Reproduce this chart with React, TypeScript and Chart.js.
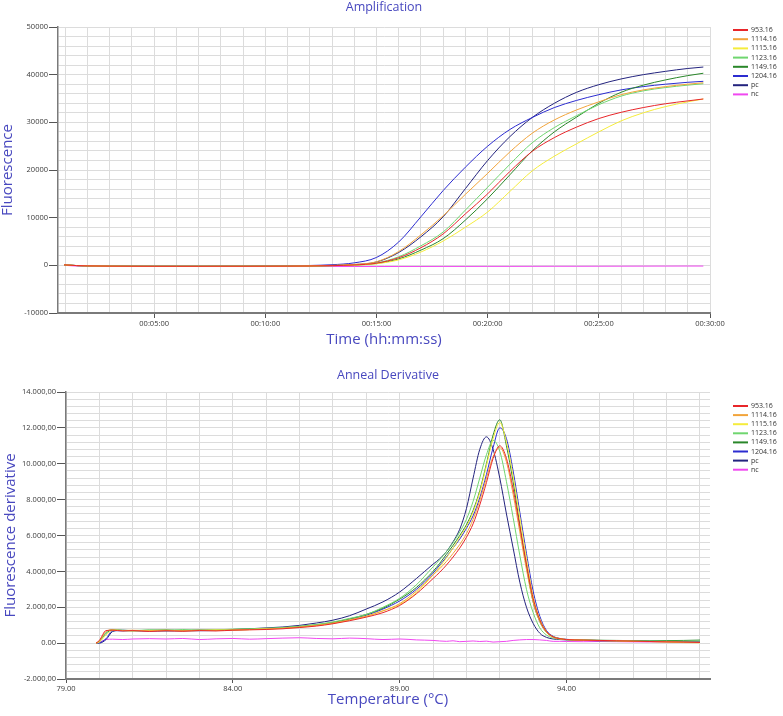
import React, { useEffect, useRef } from 'react';
import { Chart, registerables } from 'chart.js';

Chart.register(...registerables);

const FONT = '"Open Sans", "DejaVu Sans", sans-serif';
const TITLE_COLOR = '#4848bf';
const TICK_COLOR = '#3a3a3a';
const GRID_COLOR = '#dcdcdc';
const AXIS_COLOR = '#7a7a7a';

const seriesLabels = ['953.16', '1114.16', '1115.16', '1123.16', '1149.16', '1204.16', 'pc', 'nc'];
const seriesColors = ['#e8262a', '#f2a43a', '#f5ec3c', '#6fd66f', '#2a872a', '#2c2cd0', '#23237e', '#f048f0'];

// ---------- Amplification (time in seconds) ----------
const ampTimes = [57, 90, 120, 180, 240, 300, 360, 420, 480, 540, 600, 660, 720, 780, 840, 900, 960, 1020, 1080, 1140, 1200, 1260, 1320, 1380, 1440, 1500, 1560, 1620, 1680, 1740, 1782];
const ampRed = [100, -50, -120, -170, -190, -200, -200, -200, -190, -190, -180, -170, -140, -60, 80, 450, 1600, 3700, 6600, 10800, 15000, 19700, 23900, 26800, 29000, 30800, 32100, 33100, 33900, 34500, 34900];
const ampOrange = [100, -40, -110, -170, -190, -200, -200, -200, -190, -190, -180, -160, -110, -10, 200, 750, 2900, 6400, 10400, 14900, 19300, 23800, 27700, 30500, 32600, 34300, 35800, 36800, 37500, 38000, 38300];
const ampYellow = [100, -50, -120, -170, -190, -200, -200, -200, -200, -190, -190, -180, -150, -80, 50, 330, 1150, 2800, 5100, 8000, 11200, 15500, 19800, 22900, 25500, 28000, 30300, 32000, 33300, 34300, 34900];
const ampLightGreen = [100, -50, -110, -170, -190, -200, -200, -200, -190, -190, -180, -170, -130, -40, 110, 500, 1800, 4100, 7000, 11600, 16400, 21200, 25700, 28900, 31400, 33700, 35500, 36600, 37300, 37800, 38100];
const ampDarkGreen = [100, -50, -120, -170, -190, -200, -200, -200, -200, -190, -190, -180, -150, -70, 70, 380, 1350, 3200, 5600, 9500, 14000, 19000, 24000, 28000, 31100, 34000, 36300, 37800, 38900, 39800, 40300];
const ampBlue = [100, -40, -100, -160, -180, -190, -190, -190, -180, -170, -150, -110, -30, 130, 520, 1650, 4900, 10200, 15700, 20600, 25000, 28500, 31000, 33100, 34600, 35800, 36800, 37500, 38000, 38400, 38600];
const ampPc = [100, -50, -110, -170, -190, -200, -200, -200, -190, -190, -180, -170, -120, -30, 150, 700, 2700, 6000, 10200, 16100, 22000, 27000, 31000, 34000, 36300, 37900, 39100, 40000, 40700, 41300, 41600];
const ampNc = [0, -150, -200, -220, -230, -240, -240, -250, -250, -250, -250, -250, -250, -250, -250, -250, -240, -240, -230, -230, -220, -220, -210, -200, -200, -190, -180, -170, -160, -150, -150];
const ampSeries = [ampRed, ampOrange, ampYellow, ampLightGreen, ampDarkGreen, ampBlue, ampPc, ampNc];

const ampXMin = 40.5;
const ampXMax = 1800;
const ampGridSeconds = Array.from({ length: 30 }, (_, i) => (i + 1) * 60);
const ampLabelSeconds = [300, 600, 900, 1200, 1500, 1800];
const ampYGrid = Array.from({ length: 31 }, (_, i) => -10000 + i * 2000);
const ampYLabels = [-10000, 0, 10000, 20000, 30000, 40000, 50000];

// ---------- Anneal derivative (temperature °C) ----------
const meltTemps = [79.9, 80.0, 80.2, 80.4, 80.7, 81, 81.5, 82, 82.5, 83, 83.5, 84, 84.5, 85, 85.5, 86, 86.5, 87, 87.5, 88, 88.5, 89, 89.5, 90, 90.2, 90.4, 90.6, 90.8, 91, 91.2, 91.4, 91.6, 91.8, 92, 92.2, 92.4, 92.6, 92.8, 93, 93.2, 93.4, 93.6, 93.8, 94, 94.5, 95, 95.5, 96, 96.5, 97, 97.5, 98];
const meltRed = [0, 150, 700, 720, 680, 700, 650, 690, 660, 700, 680, 720, 740, 760, 800, 870, 950, 1080, 1250,
  1450, 1700, 2100, 2750, 3600, 3950, 4350, 4800, 5300, 5900, 6650, 7700, 8950, 10300, 11000, 10300, 8600, 6500, 4400, 2500, 1300, 650, 350, 250, 200,
  170, 150, 130, 110, 90, 70, 60, 40];
const meltOrange = [0, 120, 650, 740, 700, 720, 680, 700, 690, 720, 700, 740, 760, 790, 830, 900, 990, 1120, 1300,
  1500, 1800, 2200, 2900, 3800, 4150, 4550, 5000, 5500, 6100, 6900, 7950, 9200, 10400, 10900, 10100, 8300, 6200, 4100, 2300, 1200, 600, 330, 240, 200,
  160, 140, 130, 100, 90, 80, 50, 40];
const meltYellow = [0, 60, 450, 720, 700, 680, 700, 720, 680, 700, 740, 720, 750, 790, 820, 880, 980, 1100, 1280,
  1500, 1800, 2150, 2800, 3800, 4250, 4750, 5300, 5900, 6500, 7300, 8400, 9900, 11400, 12300, 11200, 9300, 7000, 4700, 2600, 1350, 650, 350, 250, 200,
  170, 140, 120, 100, 80, 60, 30, 20];
const meltLightGreen = [0, 80, 600, 760, 720, 700, 740, 700, 760, 720, 740, 780, 800, 830, 870, 940, 1040, 1180, 1380,
  1600, 2000, 2500, 3250, 4250, 4650, 5100, 5600, 6200, 6900, 7900, 9200, 10500, 11300, 10700, 9000, 7000, 4900, 3000, 1700, 850, 450, 280, 220, 190,
  170, 150, 140, 120, 110, 100, 110, 120];
const meltDarkGreen = [0, 100, 550, 740, 700, 690, 720, 740, 700, 730, 720, 760, 780, 800, 850, 920, 1020, 1150, 1350,
  1600, 1950, 2450, 3100, 4000, 4450, 4950, 5450, 6000, 6600, 7400, 8500, 10000, 11600, 12450, 11000, 9000, 6600, 4300, 2300, 1200, 600, 350, 250, 200,
  180, 160, 150, 140, 130, 140, 150, 170];
const meltBlue = [0, 20, 250, 700, 680, 700, 660, 700, 680, 690, 700, 730, 760, 790, 840, 910, 1000, 1130, 1320,
  1550, 1900, 2350, 3000, 3900, 4350, 4800, 5300, 5800, 6400, 7100, 8100, 9400, 10900, 12000, 11400, 9600, 7300, 5000, 2900, 1500, 700, 380, 260, 210,
  170, 140, 120, 110, 100, 90, 80, 70];
const meltPc = [0, 0, 200, 650, 720, 690, 700, 680, 700, 710, 720, 760, 800, 850, 900, 990, 1120, 1280, 1530,
  1900, 2300, 2850, 3600, 4400, 4700, 5100, 5650, 6350, 7500, 9200, 10800, 11500, 10800, 9200, 7200, 5300, 3400, 2000, 1100, 550, 320, 230, 200, 180,
  150, 130, 120, 100, 90, 80, 70, 60];
const meltNc = [0, 50, 200, 220, 200, 230, 250, 230, 260, 200, 240, 260, 220, 250, 280, 300, 260, 240, 280,
  250, 200, 230, 180, 150, 120, 100, 130, 80, 100, 120, 90, 110, 60, 80, 100, 150, 180, 200, 200, 180, 150, 100, 100, 90,
  80, 90, 80, 70, 60, 60, 50, 50];
const meltSeries = [meltRed, meltOrange, meltYellow, meltLightGreen, meltDarkGreen, meltBlue, meltPc, meltNc];

const meltXMin = 79;
const meltXMax = 98.3;
const meltXGrid = Array.from({ length: 20 }, (_, i) => 79 + i);
const meltXLabels = [79, 84, 89, 94];
const meltYGrid = Array.from({ length: 41 }, (_, i) => -2000 + i * 400);
const meltYLabels = [-2000, 0, 2000, 4000, 6000, 8000, 10000, 12000, 14000];

const pad2 = (n: number) => String(n).padStart(2, '0');
const hms = (sec: number) => {
  const h = Math.floor(sec / 3600);
  const m = Math.floor((sec % 3600) / 60);
  const s = Math.round(sec % 60);
  return `${pad2(h)}:${pad2(m)}:${pad2(s)}`;
};
const euro = (v: number) => {
  if (v === 0) return '0.00';
  const sign = v < 0 ? '-' : '';
  const s = Math.floor(Math.abs(v)).toString().replace(/\B(?=(\d{3})+(?!\d))/g, '.');
  return sign + s + ',00';
};

type Cfg = {
  title: string;
  titlePadTop: number;
  titlePadBottom: number;
  xs: number[];
  series: number[][];
  xMin: number; xMax: number; yMin: number; yMax: number;
  xGrid: number[]; xLabels: number[]; yGrid: number[]; yLabels: number[];
  xFmt: (v: number) => string; yFmt: (v: number) => string;
  yAxisWidth: number; xAxisHeight: number;
  xTitle: string; yTitle: string; xTitlePadBottom: number; yTitlePadTop: number;
  xTickLen: number; yTickLen: number;
  legendY0: number; legendStep: number;
};

function makeChart(canvas: HTMLCanvasElement, c: Cfg) {
  const tickFont = { family: FONT, size: 7.5 };
  const legendPlugin = {
    id: 'sideLegend',
    afterDraw(chart: any) {
      const ctx = chart.ctx as CanvasRenderingContext2D;
      ctx.save();
      ctx.font = `7px ${FONT}`;
      ctx.textBaseline = 'middle';
      ctx.textAlign = 'left';
      chart.data.datasets.forEach((ds: any, i: number) => {
        const y = c.legendY0 + i * c.legendStep;
        ctx.strokeStyle = ds.borderColor;
        ctx.lineWidth = 2;
        ctx.beginPath();
        ctx.moveTo(733, y);
        ctx.lineTo(748, y);
        ctx.stroke();
        ctx.fillStyle = '#333';
        ctx.fillText(ds.label, 751, y);
      });
      ctx.restore();
    },
  };

  return new Chart(canvas, {
    type: 'line',
    data: {
      datasets: c.series.map((vals, i) => ({
        label: seriesLabels[i],
        data: c.xs.map((x, j) => ({ x, y: vals[j] })),
        borderColor: seriesColors[i],
        backgroundColor: seriesColors[i],
        borderWidth: 1,
        pointRadius: 0,
        fill: false,
        cubicInterpolationMode: 'monotone' as const,
      })),
    },
    options: {
      responsive: false,
      animation: false,
      events: [],
      layout: { padding: { left: 0, right: 73, top: 0, bottom: 0 } },
      plugins: {
        legend: { display: false },
        tooltip: { enabled: false },
        title: {
          display: true,
          text: c.title,
          color: TITLE_COLOR,
          fullSize: false,
          font: { family: FONT, size: 12.5, weight: 'normal', lineHeight: 1.2 },
          padding: { top: c.titlePadTop, bottom: c.titlePadBottom },
        },
      },
      scales: {
        x: {
          type: 'linear',
          min: c.xMin,
          max: c.xMax,
          afterBuildTicks: (axis: any) => { axis.ticks = c.xGrid.map((v) => ({ value: v })); },
          afterFit: (axis: any) => { axis.height = c.xAxisHeight; },
          ticks: {
            autoSkip: false,
            maxRotation: 0,
            minRotation: 0,
            padding: 1,
            color: TICK_COLOR,
            font: tickFont,
            callback: (v: any) => (c.xLabels.includes(Number(v)) ? c.xFmt(Number(v)) : ''),
          },
          grid: {
            color: GRID_COLOR,
            lineWidth: 1,
            tickLength: c.xTickLen,
            tickColor: (ctx: any) => (ctx.tick && c.xLabels.includes(ctx.tick.value) ? '#555' : 'rgba(0,0,0,0)'),
          },
          border: { color: AXIS_COLOR, width: 2 },
          title: {
            display: true,
            text: c.xTitle,
            color: TITLE_COLOR,
            font: { family: FONT, size: 15, lineHeight: 1 },
            padding: { top: 0, bottom: c.xTitlePadBottom },
          },
        },
        y: {
          type: 'linear',
          min: c.yMin,
          max: c.yMax,
          afterBuildTicks: (axis: any) => { axis.ticks = c.yGrid.map((v) => ({ value: v })); },
          afterFit: (axis: any) => { axis.width = c.yAxisWidth; },
          ticks: {
            autoSkip: false,
            padding: 1,
            color: TICK_COLOR,
            font: tickFont,
            callback: (v: any) => (c.yLabels.includes(Number(v)) ? c.yFmt(Number(v)) : ''),
          },
          grid: {
            color: GRID_COLOR,
            lineWidth: 1,
            tickLength: c.yTickLen,
            tickColor: (ctx: any) => (ctx.tick && c.yLabels.includes(ctx.tick.value) ? '#555' : 'rgba(0,0,0,0)'),
          },
          border: { color: AXIS_COLOR, width: 1.5 },
          title: {
            display: true,
            text: c.yTitle,
            color: TITLE_COLOR,
            font: { family: FONT, size: 15, lineHeight: 1 },
            padding: { top: c.yTitlePadTop, bottom: 0 },
          },
        },
      },
    } as any,
    plugins: [legendPlugin],
  });
}

export default function App() {
  const topRef = useRef<HTMLCanvasElement>(null);
  const botRef = useRef<HTMLCanvasElement>(null);

  useEffect(() => {
    const top = makeChart(topRef.current!, {
      title: 'Amplification',
      titlePadTop: 0,
      titlePadBottom: 12,
      xs: ampTimes,
      series: ampSeries,
      xMin: ampXMin, xMax: ampXMax, yMin: -10000, yMax: 50000,
      xGrid: ampGridSeconds, xLabels: ampLabelSeconds, yGrid: ampYGrid, yLabels: ampYLabels,
      xFmt: hms, yFmt: (v) => String(v),
      yAxisWidth: 58, xAxisHeight: 45,
      xTitle: 'Time (hh:mm:ss)', yTitle: 'Fluorescence',
      xTitlePadBottom: 10.5, yTitlePadTop: 0,
      xTickLen: 5, yTickLen: 9,
      legendY0: 30, legendStep: 9.2,
    });
    const bot = makeChart(botRef.current!, {
      title: 'Anneal Derivative',
      titlePadTop: 9.5,
      titlePadBottom: 9.5,
      xs: meltTemps,
      series: meltSeries,
      xMin: meltXMin, xMax: meltXMax, yMin: -2000, yMax: 14000,
      xGrid: meltXGrid, xLabels: meltXLabels, yGrid: meltYGrid, yLabels: meltYLabels,
      xFmt: (v) => v.toFixed(2), yFmt: euro,
      yAxisWidth: 66, xAxisHeight: 37,
      xTitle: 'Temperature (°C)', yTitle: 'Fluorescence derivative',
      xTitlePadBottom: 8.5, yTitlePadTop: 3,
      xTickLen: 4, yTickLen: 9,
      legendY0: 48, legendStep: 9.1,
    });
    return () => { top.destroy(); bot.destroy(); };
  }, []);

  return (
    <div style={{ position: 'absolute', left: 0, top: 0, width: 783, height: 716, background: '#fff' }}>
      <canvas ref={topRef} width={783} height={358} style={{ display: 'block', width: 783, height: 358 }} />
      <canvas ref={botRef} width={783} height={358} style={{ display: 'block', width: 783, height: 358 }} />
    </div>
  );
}
